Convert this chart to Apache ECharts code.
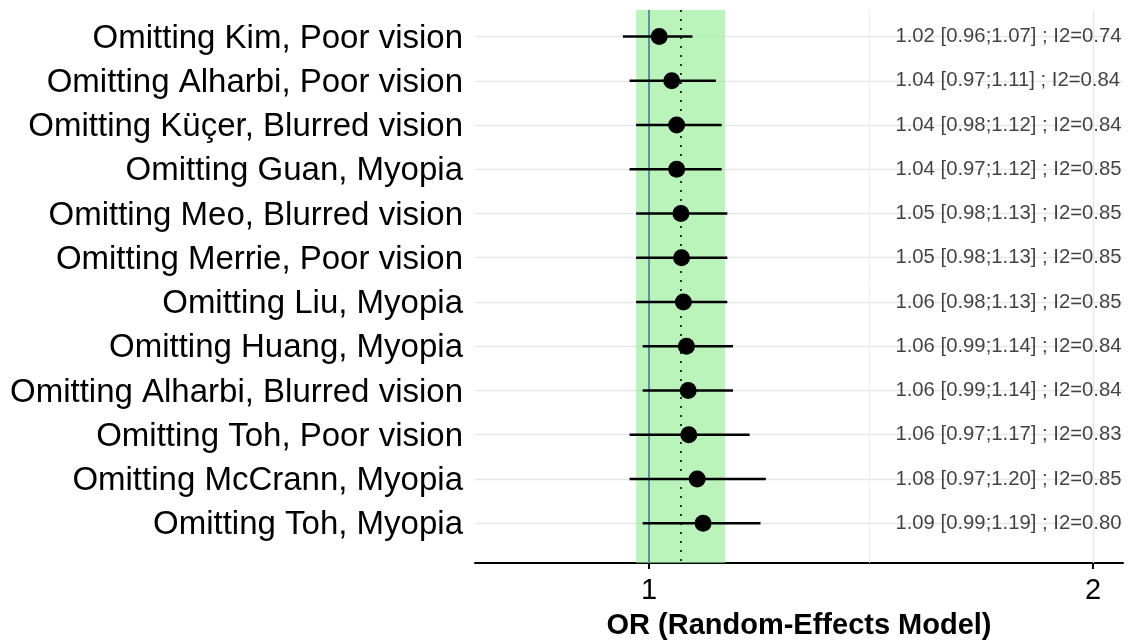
<!DOCTYPE html>
<html>
<head>
<meta charset="utf-8">
<script src="https://cdn.jsdelivr.net/npm/echarts@6/dist/echarts.min.js"></script>
<style>
  html, body { margin: 0; padding: 0; background: #fff; }
  #chart { width: 1129px; height: 643px; }
</style>
</head>
<body>
<div id="chart"></div>
<script>
// ---- data ----
const labels = [
  "Omitting Kim, Poor vision",
  "Omitting Alharbi, Poor vision",
  "Omitting Küçer, Blurred vision",
  "Omitting Guan, Myopia",
  "Omitting Meo, Blurred vision",
  "Omitting Merrie, Poor vision",
  "Omitting Liu, Myopia",
  "Omitting Huang, Myopia",
  "Omitting Alharbi, Blurred vision",
  "Omitting Toh, Poor vision",
  "Omitting McCrann, Myopia",
  "Omitting Toh, Myopia"
];
const estimates = [1.016, 1.036, 1.044, 1.044, 1.051, 1.052, 1.055, 1.060, 1.063, 1.064, 1.078, 1.088];
const estPrinted = ["1.02", "1.04", "1.04", "1.04", "1.05", "1.05", "1.06", "1.06", "1.06", "1.06", "1.08", "1.09"];
const ciLower = [0.96, 0.97, 0.98, 0.97, 0.98, 0.98, 0.98, 0.99, 0.99, 0.97, 0.97, 0.99];
const ciUpper = [1.07, 1.11, 1.12, 1.12, 1.13, 1.13, 1.13, 1.14, 1.14, 1.17, 1.20, 1.19];
const i2 = [0.74, 0.84, 0.84, 0.85, 0.85, 0.85, 0.85, 0.84, 0.84, 0.83, 0.85, 0.80];
const pooledEstimate = 1.05;
const pooledCI = [0.98, 1.126];
const nullValue = 1;
const xTicks = [1, 2];
const minorGrid = [1.4142];
const textX = 1.468;
const xTitle = "OR (Random-Effects Model)";

const summaryText = labels.map((_, i) =>
  `${estPrinted[i]} [${ciLower[i].toFixed(2)};${ciUpper[i].toFixed(2)}] ; I2=${i2[i].toFixed(2)}`);

const rows = labels.map((_, i) => i);
const FONT = "'Liberation Sans', Arial, sans-serif";

const chart = echarts.init(document.getElementById('chart'), null, { renderer: 'canvas' });

const option = {
  animation: false,
  backgroundColor: '#ffffff',
  grid: [
    { left: 475, top: 10, width: 648, height: 553, outerBoundsMode: 'none', containLabel: false },
    { left: 475, top: 16.5, width: 648, height: 531, outerBoundsMode: 'none', containLabel: false }
  ],
  xAxis: [
    {
      type: 'log', logBase: 2, min: 0.762, max: 2.096, gridIndex: 0,
      axisLine: { show: true, onZero: false, lineStyle: { color: '#000', width: 2 } },
      axisTick: { show: true, customValues: xTicks, length: 6, lineStyle: { color: '#000', width: 2 } },
      axisLabel: { customValues: xTicks, fontSize: 29, color: '#000', margin: 13, fontFamily: FONT,
                   formatter: v => String(Math.round(v)) },
      splitLine: { show: false },
      name: xTitle, nameLocation: 'middle', nameGap: 48,
      nameTextStyle: { fontSize: 29, fontWeight: 'bold', color: '#000', fontFamily: FONT }
    },
    { type: 'value', gridIndex: 1, show: false, min: 0, max: 1 }
  ],
  yAxis: [
    {
      type: 'value', inverse: true, min: -0.6, max: 11.9, gridIndex: 0,
      axisLine: { show: false }, axisTick: { show: false }, axisLabel: { show: false },
      splitLine: { show: false }
    },
    {
      type: 'category', inverse: true, data: labels, gridIndex: 1,
      axisLine: { show: false }, axisTick: { show: false }, splitLine: { show: false },
      axisLabel: { fontSize: 33, color: '#000', margin: 12, fontFamily: FONT }
    }
  ],
  series: [
    {
      // grid lines
      type: 'scatter', data: [], z: 1, silent: true,
      markLine: {
        silent: true, symbol: 'none', label: { show: false }, animation: false, z: 1,
        data: rows.map(r => ({ yAxis: r, lineStyle: { color: '#e6e6e6', width: 1.3, type: 'solid' } }))
          .concat(xTicks.map(v => ({ xAxis: v, lineStyle: { color: '#e6e6e6', width: 1.3, type: 'solid' } })))
          .concat(minorGrid.map(v => ({ xAxis: v, lineStyle: { color: '#ececec', width: 0.9, type: 'solid' } })))
      }
    },
    {
      // pooled CI band
      type: 'scatter', data: [], z: 2, silent: true,
      markArea: {
        silent: true, z: 2,
        itemStyle: { color: 'rgba(144,238,144,0.62)' },
        data: [[{ xAxis: pooledCI[0] }, { xAxis: pooledCI[1] }]]
      }
    },
    {
      // reference and pooled lines
      type: 'scatter', data: [], z: 3, silent: true,
      markLine: {
        silent: true, symbol: 'none', label: { show: false }, animation: false, z: 3,
        data: [
          { xAxis: nullValue, lineStyle: { color: '#4a78a8', width: 1.6, type: 'solid' } },
          { xAxis: pooledEstimate, lineStyle: { color: '#1d3d1d', width: 2, type: [2, 7] } }
        ]
      }
    },
    {
      // error bars
      type: 'custom', z: 4,
      data: rows.map(i => [ciLower[i], ciUpper[i], i]),
      encode: { x: [0, 1], y: 2 },
      renderItem: (params, api) => {
        const p1 = api.coord([api.value(0), api.value(2)]);
        const p2 = api.coord([api.value(1), api.value(2)]);
        return {
          type: 'line',
          shape: { x1: p1[0], y1: p1[1], x2: p2[0], y2: p2[1] },
          style: { stroke: '#000', lineWidth: 2.5 }
        };
      }
    },
    {
      // point estimates
      type: 'scatter', z: 5,
      data: rows.map(i => [estimates[i], i]),
      symbol: 'circle', symbolSize: 17,
      itemStyle: { color: '#000', opacity: 1 }
    },
    {
      // summary text
      type: 'scatter', z: 6,
      data: rows.map(i => [textX, i]),
      symbolSize: 1, itemStyle: { color: 'rgba(0,0,0,0)' },
      label: {
        show: true, position: 'right', distance: 0,
        fontSize: 20.3, color: '#111', fontFamily: FONT,
        formatter: p => summaryText[p.dataIndex]
      }
    }
  ]
};

chart.setOption(option);
</script>
</body>
</html>
